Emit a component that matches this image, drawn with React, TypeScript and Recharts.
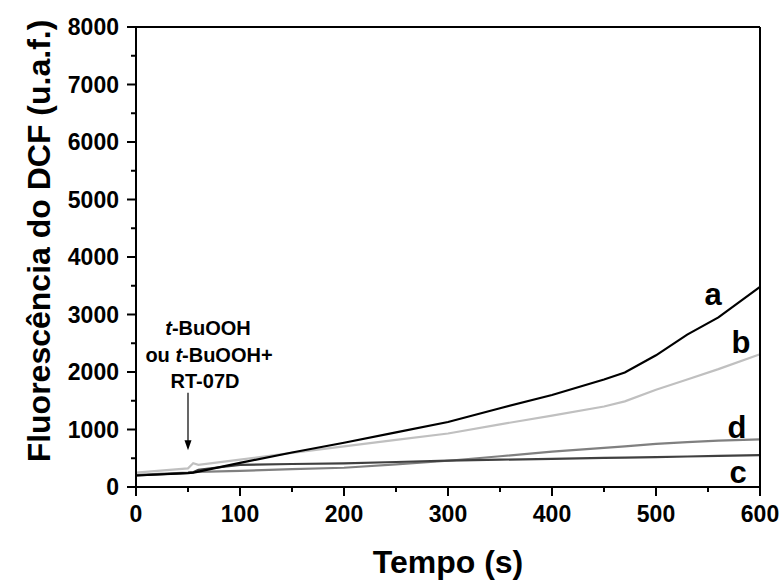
import React from 'react';
import {
  LineChart,
  Line,
  XAxis,
  YAxis,
  ReferenceLine,
} from 'recharts';

// time points (s)
const tempo = [0, 50, 55, 60, 100, 150, 200, 250, 300, 350, 400, 450, 470, 500, 530, 560, 600];

// DCF fluorescence (u.a.f.) per curve
const serieA = [200, 243, 250, 268, 420, 600, 770, 950, 1130, 1370, 1600, 1870, 1990, 2290, 2650, 2950, 3480];
const serieB = [250, 325, 412, 385, 475, 595, 706, 820, 930, 1090, 1240, 1400, 1490, 1690, 1870, 2050, 2310];
const serieC = [200, 245, 255, 300, 385, 400, 412, 435, 457, 475, 490, 505, 510, 520, 530, 540, 556];
const serieD = [210, 250, 258, 262, 280, 310, 335, 395, 457, 535, 615, 680, 705, 750, 780, 805, 829];

const xTicks = [0, 50, 100, 150, 200, 250, 300, 350, 400, 450, 500, 550, 600];
const yTicks = [0, 500, 1000, 1500, 2000, 2500, 3000, 3500, 4000, 4500, 5000, 5500, 6000, 6500, 7000, 7500, 8000];

const data = tempo.map((t, i) => ({
  t,
  a: serieA[i],
  b: serieB[i],
  c: serieC[i],
  d: serieD[i],
}));

const FONT = "Arial, 'Liberation Sans', Helvetica, sans-serif";
const TICK_SIZE = 9;
const TICK_MARGIN = 8;

const LeftTick = (props: any) => {
  const { x, y, payload } = props;
  const axisX = x + TICK_SIZE + TICK_MARGIN;
  const major = payload.value % 1000 === 0;
  return (
    <g>
      <line x1={axisX - (major ? 9 : 5)} x2={axisX} y1={y} y2={y} stroke="#000" strokeWidth={2} />
      {major && (
        <text x={x} y={y} dy="0.36em" textAnchor="end" fontFamily={FONT} fontWeight="bold" fontSize={23} fill="#000">
          {payload.value}
        </text>
      )}
    </g>
  );
};

const BottomTick = (props: any) => {
  const { x, y, payload } = props;
  const axisY = y - TICK_SIZE - TICK_MARGIN;
  const major = payload.value % 100 === 0;
  return (
    <g>
      <line x1={x} x2={x} y1={axisY} y2={axisY + (major ? 9 : 5)} stroke="#000" strokeWidth={2} />
      {major && (
        <text x={x} y={axisY + 35} textAnchor="middle" fontFamily={FONT} fontWeight="bold" fontSize={23} fill="#000">
          {payload.value}
        </text>
      )}
    </g>
  );
};

const RightTick = (props: any) => {
  const { x, y } = props;
  const axisX = x - TICK_SIZE - TICK_MARGIN;
  return <line x1={axisX} x2={axisX + 3} y1={y} y2={y} stroke="#000" strokeWidth={2} />;
};

const Arrow = (props: any) => {
  const { x1, y1, x2, y2 } = props;
  return (
    <g>
      <line x1={x1} y1={y1} x2={x2} y2={y2 - 6} stroke="#000" strokeWidth={1.2} />
      <path d={`M${x2 - 3.5},${y2 - 10} L${x2 + 3.5},${y2 - 10} L${x2},${y2} Z`} fill="#000" />
    </g>
  );
};

const txt = { fontFamily: FONT, fontWeight: 'bold' as const, fill: '#000' };

const App: React.FC = () => {
  return (
    <div style={{ position: 'absolute', left: 0, top: 0, width: 784, height: 585, background: '#fff' }}>
      <LineChart
        width={784}
        height={585}
        data={data}
        margin={{ top: 26, right: 23, left: 0, bottom: 58 }}
      >
        <XAxis
          dataKey="t"
          type="number"
          domain={[0, 600]}
          ticks={xTicks}
          interval={0}
          height={40}
          tickSize={TICK_SIZE}
          tickMargin={TICK_MARGIN}
          tickLine={false}
          axisLine={{ stroke: '#000', strokeWidth: 2 }}
          tick={<BottomTick />}
        />
        <XAxis
          xAxisId="top"
          orientation="top"
          dataKey="t"
          type="number"
          domain={[0, 600]}
          height={1}
          tick={false}
          tickLine={false}
          axisLine={{ stroke: '#000', strokeWidth: 2 }}
        />
        <YAxis
          type="number"
          domain={[0, 8000]}
          ticks={yTicks}
          interval={0}
          width={136}
          tickSize={TICK_SIZE}
          tickMargin={TICK_MARGIN}
          tickLine={false}
          axisLine={{ stroke: '#000', strokeWidth: 2 }}
          tick={<LeftTick />}
        />
        <YAxis
          yAxisId="right"
          orientation="right"
          type="number"
          domain={[0, 8000]}
          ticks={yTicks}
          interval={0}
          width={1}
          tickSize={TICK_SIZE}
          tickMargin={TICK_MARGIN}
          tickLine={false}
          axisLine={{ stroke: '#000', strokeWidth: 2 }}
          tick={<RightTick />}
        />
        <ReferenceLine
          segment={[{ x: 50, y: 1640 }, { x: 50, y: 640 }]}
          shape={<Arrow />}
        />
        <Line type="linear" dataKey="d" stroke="#808080" strokeWidth={2.2} dot={false} isAnimationActive={false} />
        <Line type="linear" dataKey="c" stroke="#404040" strokeWidth={2.2} dot={false} isAnimationActive={false} />
        <Line type="linear" dataKey="b" stroke="#c0c0c0" strokeWidth={2.2} dot={false} isAnimationActive={false} />
        <Line type="linear" dataKey="a" stroke="#000000" strokeWidth={2.2} dot={false} isAnimationActive={false} />
      </LineChart>

      <svg width={784} height={585} style={{ position: 'absolute', left: 0, top: 0, pointerEvents: 'none' }}>
        <text {...txt} x={50} y={241} fontSize={32} textAnchor="middle" transform="rotate(-90, 50, 241)">
          Fluorescência do DCF (u.a.f.)
        </text>
        <text {...txt} x={448} y={573} fontSize={32} textAnchor="middle">
          Tempo (s)
        </text>

        <text {...txt} x={208} y={335} fontSize={20} textAnchor="middle">
          <tspan fontStyle="italic">t</tspan>-BuOOH
        </text>
        <text {...txt} x={209} y={362} fontSize={20} textAnchor="middle">
          ou <tspan fontStyle="italic">t</tspan>-BuOOH+
        </text>
        <text {...txt} x={205} y={388} fontSize={20} textAnchor="middle">
          RT-07D
        </text>

        <text {...txt} x={713} y={305} fontSize={31} textAnchor="middle">a</text>
        <text {...txt} x={741} y={353} fontSize={31} textAnchor="middle">b</text>
        <text {...txt} x={737} y={438} fontSize={31} textAnchor="middle">d</text>
        <text {...txt} x={738} y={483} fontSize={31} textAnchor="middle">c</text>
      </svg>
    </div>
  );
};

export default App;
